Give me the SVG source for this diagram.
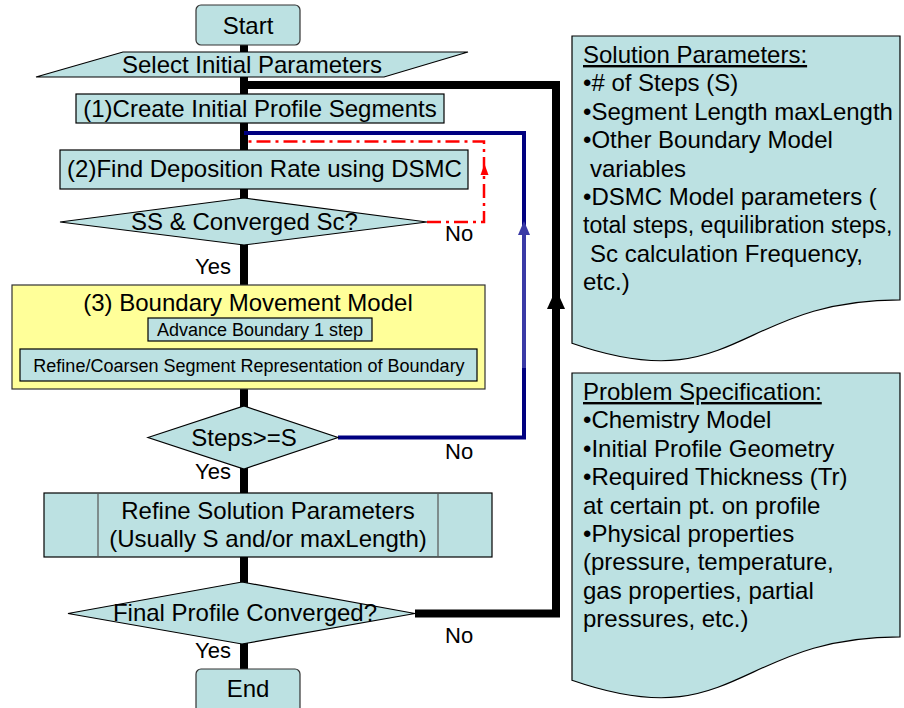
<svg xmlns="http://www.w3.org/2000/svg" width="904" height="708" viewBox="0 0 904 708">
  <style>
    text { font-family: "Liberation Sans", Arial, sans-serif; fill: #000; }
    .lbl { font-size: 24px; text-anchor: middle; }
    .sm { font-size: 18px; text-anchor: middle; }
    .yn { font-size: 22px; }
    .note { font-size: 24px; }
    .box { fill: #BCE1E2; stroke: #000; stroke-width: 1.2; }
    .term { fill: #BCE1E2; stroke: #333; stroke-width: 1.2; }
    .grp { fill: #FFFF99; stroke: #333; stroke-width: 1.2; }
    .thick { fill: none; stroke: #000; stroke-width: 8; }
    .navy { fill: none; stroke: #000080; stroke-width: 4; }
    .navy2 { fill: none; stroke: #3A3AA6; stroke-width: 4; }
    .red { fill: none; stroke: #FF0000; stroke-width: 2.5; stroke-dasharray: 14 5 3 5; }
  </style>

  <!-- connectors -->
  <g id="connectors">
    <!-- main spine -->
    <line class="thick" x1="244" y1="45" x2="244" y2="670"/>
    <!-- outer loop: final profile not converged -->
    <polyline class="thick" points="415,613.5 556,613.5 556,85 244,85"/>
    <polygon points="556,289 565,309 547,309" fill="#000"/>
    <!-- steps loop -->
    <polyline class="navy" points="338,437.5 524,437.5 524,133 244,133"/>
    <line class="navy2" x1="524" y1="368" x2="524" y2="232"/>
    <polygon points="524,221 530,235 518,235" fill="#3A3AA6"/>
    <!-- DSMC convergence loop -->
    <polyline class="red" points="427,222 484,222 484,141.5 248,141.5"/>
    <polygon points="484.5,164 488.5,175 480.5,175" fill="#FF0000"/>
  </g>

  <g id="start">
    <rect class="term" x="196" y="5" width="104" height="40" rx="5"/>
    <text class="lbl" x="248" y="34">Start</text>
  </g>

  <g id="select-params">
    <polygon class="box" points="123,52 468,52 384,77 36,77"/>
    <text class="lbl" x="252" y="73">Select Initial Parameters</text>
  </g>

  <g id="create-segments">
    <rect class="box" x="76" y="94" width="368" height="29"/>
    <text class="lbl" x="260" y="117">(1)Create Initial Profile Segments</text>
  </g>

  <g id="deposition-rate">
    <rect class="box" x="60" y="150" width="408" height="39"/>
    <text class="lbl" x="264.5" y="177">(2)Find Deposition Rate using DSMC</text>
  </g>

  <g id="ss-converged">
    <polygon class="box" points="60,222 244,198 427,222 244,245"/>
    <text class="lbl" x="244.5" y="230">SS &amp; Converged Sc?</text>
    <text class="yn" x="445" y="241">No</text>
    <text class="yn" x="195" y="274">Yes</text>
  </g>

  <g id="boundary-model">
    <rect class="grp" x="12" y="285" width="473" height="104"/>
    <text class="lbl" x="248" y="311">(3) Boundary Movement Model</text>
    <rect class="box" x="148" y="318" width="224" height="23"/>
    <text class="sm" x="260" y="336">Advance Boundary 1 step</text>
    <rect class="box" x="20" y="349" width="457" height="32"/>
    <text class="sm" x="249" y="372">Refine/Coarsen Segment Representation of Boundary</text>
  </g>

  <g id="steps-check">
    <polygon class="box" points="148,437.5 244,406 338,437.5 244,469"/>
    <text class="lbl" x="244" y="446">Steps&gt;=S</text>
    <text class="yn" x="445" y="459">No</text>
    <text class="yn" x="195" y="479">Yes</text>
  </g>

  <g id="refine-solution">
    <rect class="box" x="44" y="493" width="448" height="64"/>
    <line x1="98" y1="493" x2="98" y2="557" stroke="#555" stroke-width="1.2"/>
    <line x1="438" y1="493" x2="438" y2="557" stroke="#555" stroke-width="1.2"/>
    <text class="lbl" x="268" y="519">Refine Solution Parameters</text>
    <text class="lbl" x="268" y="547">(Usually S and/or maxLength)</text>
  </g>

  <g id="final-converged">
    <polygon class="box" points="68,613.5 242,582 415,613.5 242,644"/>
    <text class="lbl" x="245" y="621">Final Profile Converged?</text>
    <text class="yn" x="445" y="643">No</text>
    <text class="yn" x="195" y="658">Yes</text>
  </g>

  <g id="end">
    <rect class="term" x="196" y="669" width="104" height="44" rx="5"/>
    <text class="lbl" x="248" y="697">End</text>
  </g>

  <g id="solution-parameters">
    <path class="box" d="M572,36 H900 V299.8 C736,299.8 736,400.4 572,343.3 Z"/>
    <text class="note" x="583" y="63" text-decoration="underline">Solution Parameters:</text>
    <text class="note" x="583" y="91.4">•# of Steps (S)</text>
    <text class="note" x="583" y="119.8">•Segment Length maxLength</text>
    <text class="note" x="583" y="148.2">•Other Boundary Model</text>
    <text class="note" x="590" y="176.6">variables</text>
    <text class="note" x="583" y="205">•DSMC Model parameters (</text>
    <text class="note" x="583" y="233.4" style="font-size:23px">total steps, equilibration steps,</text>
    <text class="note" x="590" y="261.8">Sc calculation Frequency,</text>
    <text class="note" x="583" y="290.2">etc.)</text>
  </g>

  <g id="problem-specification">
    <path class="box" d="M572,373 H900 V636.8 C736,636.8 736,737.4 572,680.3 Z"/>
    <text class="note" x="583" y="400" text-decoration="underline">Problem Specification:</text>
    <text class="note" x="583" y="428.4">•Chemistry Model</text>
    <text class="note" x="583" y="456.8">•Initial Profile Geometry</text>
    <text class="note" x="583" y="485.2">•Required Thickness (Tr)</text>
    <text class="note" x="583" y="513.6">at certain pt. on profile</text>
    <text class="note" x="583" y="542">•Physical properties</text>
    <text class="note" x="583" y="570.4">(pressure, temperature,</text>
    <text class="note" x="583" y="598.8">gas properties, partial</text>
    <text class="note" x="583" y="627.2">pressures, etc.)</text>
  </g>
</svg>
